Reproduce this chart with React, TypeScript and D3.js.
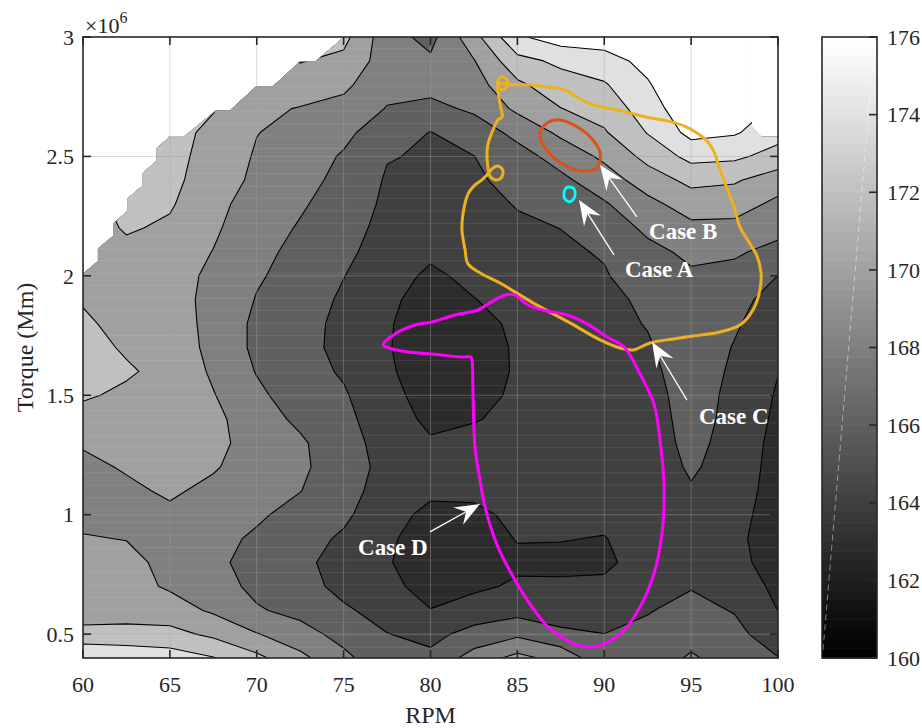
import React from "react";
import * as d3 from "d3";

// ---------- data ----------
const RPM_GRID = [60, 62.5, 65, 67.5, 70, 72.5, 75, 77.5, 80, 82.5, 85, 87.5, 90, 92.5, 95, 97.5, 100];
const TORQUE_GRID = [0.4, 0.5, 0.6, 0.7, 0.8, 0.9, 1.0, 1.1, 1.2, 1.3, 1.4, 1.5, 1.6, 1.7, 1.8, 1.9, 2.0, 2.1, 2.2, 2.3, 2.4, 2.5, 2.6, 2.7, 2.8, 2.9, 3.0];
// one row per torque value (bottom -> top), one column per RPM value
const VALUE_ROWS = [
  [175.4, 175.2, 175.0, 174.1, 172.5, 170.5, 168.5, 166.6, 166.4, 168.9, 170.6, 169.3, 166.6, 166.7, 168.3, 166.9, 166.05],
  [173.0, 172.9, 172.6, 171.6, 170.1, 168.8, 167.3, 166.05, 165.5, 166.6, 167.6, 166.5, 166.02, 166.4, 167.1, 166.5, 165.0],
  [170.4, 170.8, 170.9, 169.7, 168.2, 167.4, 166.3, 165.2, 164.05, 165.0, 165.3, 164.8, 165.0, 165.9, 166.5, 165.9, 163.98],
  [170.3, 170.7, 169.75, 168.9, 167.5, 166.8, 165.4, 164.5, 163.3, 163.6, 164.3, 164.2, 164.4, 165.3, 165.9, 165.0, 163.6],
  [170.2, 170.5, 169.5, 168.5, 167.2, 166.6, 165.0, 164.15, 163.0, 163.0, 163.6, 163.7, 163.6, 164.9, 165.5, 164.4, 163.4],
  [170.1, 169.95, 169.3, 168.6, 167.7, 166.8, 165.7, 164.3, 163.1, 163.0, 164.1, 164.05, 163.95, 164.6, 165.3, 164.3, 163.3],
  [169.6, 169.3, 169.6, 168.8, 168.3, 167.3, 166.4, 164.6, 163.6, 163.6, 164.4, 164.4, 164.3, 164.5, 165.4, 164.5, 163.3],
  [169.3, 169.6, 170.3, 169.5, 168.7, 168.05, 166.7, 165.2, 164.3, 164.4, 164.6, 164.6, 164.6, 164.5, 165.8, 164.8, 163.3],
  [169.5, 170.2, 170.8, 170.2, 169.0, 168.4, 166.8, 165.5, 164.5, 164.7, 164.7, 164.7, 164.8, 164.7, 166.3, 165.0, 163.35],
  [170.2, 170.8, 171.1, 170.6, 169.1, 168.3, 166.7, 165.3, 164.2, 164.5, 164.6, 164.8, 164.9, 164.9, 166.6, 165.2, 163.4],
  [171.4, 171.2, 171.2, 170.5, 168.9, 167.6, 166.5, 164.9, 163.6, 163.9, 164.4, 164.8, 165.0, 165.0, 166.8, 165.4, 163.6],
  [172.2, 171.7, 171.4, 170.1, 168.4, 167.0, 166.2, 164.6, 163.2, 163.4, 164.3, 164.8, 165.1, 165.2, 166.9, 165.5, 163.8],
  [172.6, 172.2, 171.5, 169.7, 167.9, 166.7, 165.8, 164.3, 162.9, 163.1, 164.2, 164.8, 165.2, 165.5, 167.0, 165.7, 164.05],
  [172.6, 171.8, 171.3, 169.4, 167.6, 166.6, 165.5, 164.15, 162.8, 163.0, 164.25, 164.9, 165.3, 165.8, 167.1, 165.9, 164.5],
  [172.4, 171.2, 171.0, 169.4, 167.6, 166.7, 165.5, 164.2, 162.9, 163.3, 164.4, 165.0, 165.4, 166.1, 167.2, 166.2, 165.0],
  [171.8, 170.8, 170.7, 169.5, 167.9, 167.0, 165.7, 164.4, 163.2, 163.95, 164.6, 165.2, 165.6, 166.3, 167.4, 166.4, 165.5],
  [171.2, 171.0, 170.6, 169.7, 168.2, 167.3, 166.05, 164.7, 163.7, 164.4, 164.9, 165.4, 165.85, 167.0, 167.8, 167.3, 165.98],
  [171.0, 171.5, 171.0, 169.95, 168.4, 167.6, 166.5, 165.0, 164.3, 164.8, 165.3, 165.7, 166.15, 167.6, 168.3, 168.3, 167.3],
  [171.0, 172.2, 171.7, 170.3, 168.8, 167.85, 166.9, 165.3, 164.8, 165.1, 165.7, 166.02, 167.1, 168.3, 169.5, 169.4, 168.7],
  [171.2, 172.6, 172.2, 170.6, 169.1, 168.2, 167.2, 165.6, 165.2, 165.4, 166.1, 166.8, 167.8, 169.4, 170.95, 170.9, 169.5],
  [171.5, 172.6, 172.5, 171.0, 169.6, 168.6, 167.5, 165.8, 165.5, 165.7, 166.6, 167.6, 169.0, 171.0, 172.5, 172.2, 171.0],
  [171.5, 172.6, 172.6, 171.3, 169.8, 169.0, 167.8, 166.1, 165.8, 165.97, 167.3, 168.7, 170.4, 172.6, 174.6, 174.4, 173.2],
  [171.5, 172.6, 172.6, 171.6, 170.05, 169.4, 168.5, 166.8, 165.95, 167.0, 168.5, 170.4, 171.8, 174.1, 176.6, 176.2, 174.8],
  [171.5, 172.6, 172.6, 172.1, 170.4, 169.9, 169.4, 167.9, 167.5, 168.3, 170.4, 171.95, 172.8, 175.0, 177.5, 177.5, 175.5],
  [171.5, 172.6, 172.6, 172.3, 170.8, 171.0, 170.4, 168.6, 168.6, 169.2, 171.6, 173.2, 173.8, 175.8, 178.0, 178.0, 175.5],
  [171.5, 172.6, 172.6, 172.3, 171.0, 172.1, 171.5, 169.0, 168.3, 169.9, 173.4, 174.4, 175.2, 176.6, 178.0, 178.0, 175.5],
  [171.5, 172.6, 172.6, 172.3, 171.0, 172.5, 172.6, 168.8, 167.4, 171.3, 175.7, 177.0, 177.0, 177.2, 178.0, 178.0, 175.5],
];
const LEVELS = [162, 164, 166, 168, 170, 172, 174, 176];
// fill grey of each band (lower level), as seen in the picture
const BAND_GRAY = [44, 64, 96, 128, 160, 192, 224, 255];

// boundary of the region that holds data (outside is blank)
const VALID_RPM = [60, 100, 100, 99.08, 98.5, 98.5, 75.02, 73.35, 72.47, 70.93, 69.97, 68.44, 67.63, 65.85, 65.02, 64.22, 64.22, 63.41, 63.41, 62.55, 62.55, 61.73, 61.73, 60.86, 60.86, 60];
const VALID_TQ = [0.4, 0.4, 2.582, 2.582, 2.624, 3.0, 3.0, 2.896, 2.896, 2.794, 2.794, 2.691, 2.691, 2.586, 2.586, 2.533, 2.481, 2.428, 2.377, 2.323, 2.272, 2.219, 2.167, 2.114, 2.062, 2.009];

// axis ticks
const X_TICKS = [60, 65, 70, 75, 80, 85, 90, 95, 100];
const Y_TICKS = [0.5, 1, 1.5, 2, 2.5, 3];
const CBAR_TICKS = [160, 162, 164, 166, 168, 170, 172, 174, 176];

// Case C (orange)
const CASE_C_RPM = [86.71, 87.68, 88.6, 89.18, 90.16, 91.31, 92.46, 93.61, 94.59, 95.34, 95.91, 96.32, 96.66, 97.06, 97.47, 97.81, 98.39, 98.79, 99.02, 98.96, 98.56, 97.81, 96.66, 95.11, 93.61, 92.63, 91.65, 90.91, 89.76, 88.03, 85.9, 84.0, 82.96, 82.16, 81.99, 81.81, 81.87, 82.16, 82.56, 82.96, 83.31, 83.54, 83.83, 84.12, 84.17, 84.0, 83.71, 83.42, 83.31, 83.25, 83.31, 83.6, 83.88, 84.12, 84.0, 83.88, 83.88, 84.06, 84.29, 84.46, 84.4, 84.12, 83.88, 84.0, 84.69, 85.61];
const CASE_C_TQ = [2.791, 2.779, 2.741, 2.72, 2.703, 2.685, 2.664, 2.649, 2.628, 2.598, 2.565, 2.519, 2.443, 2.368, 2.289, 2.205, 2.134, 2.083, 2.016, 1.941, 1.857, 1.794, 1.765, 1.748, 1.732, 1.719, 1.69, 1.698, 1.732, 1.803, 1.887, 1.97, 2.008, 2.05, 2.109, 2.192, 2.259, 2.343, 2.381, 2.402, 2.427, 2.448, 2.46, 2.448, 2.427, 2.406, 2.402, 2.418, 2.452, 2.511, 2.552, 2.611, 2.653, 2.665, 2.72, 2.779, 2.82, 2.833, 2.829, 2.812, 2.791, 2.779, 2.791, 2.804, 2.8, 2.8];
// Case D (magenta)
const CASE_D_RPM = [77.27, 77.96, 79.11, 80.09, 81.41, 82.73, 83.31, 84.29, 84.86, 85.61, 86.71, 87.86, 89.01, 90.16, 91.14, 92.06, 92.86, 93.21, 93.44, 93.32, 92.86, 92.06, 91.14, 89.99, 89.18, 88.26, 87.28, 86.71, 85.84, 84.86, 83.88, 83.14, 82.85, 82.56, 82.45, 82.39, 82.33, 81.81, 80.09, 78.71, 77.78];
const CASE_D_TQ = [1.711, 1.757, 1.794, 1.807, 1.836, 1.857, 1.882, 1.92, 1.92, 1.878, 1.853, 1.836, 1.799, 1.744, 1.702, 1.589, 1.464, 1.313, 1.116, 0.919, 0.752, 0.614, 0.517, 0.459, 0.446, 0.459, 0.501, 0.534, 0.614, 0.727, 0.865, 1.032, 1.145, 1.284, 1.493, 1.648, 1.66, 1.66, 1.673, 1.681, 1.694];
// Case B (red ellipse)
const CASE_B_RPM = [86.3, 86.71, 87.45, 88.43, 89.35, 89.76, 89.64, 89.01, 88.03, 87.05, 86.42];
const CASE_B_TQ = [2.598, 2.64, 2.653, 2.624, 2.569, 2.515, 2.456, 2.439, 2.452, 2.498, 2.557];
// Case A (cyan ring)
const CASE_A_RPM = [88.03, 88.26, 88.32, 88.2, 87.97, 87.74, 87.68, 87.8];
const CASE_A_TQ = [2.372, 2.364, 2.339, 2.318, 2.31, 2.322, 2.347, 2.368];

// annotations
const LABELS = ["Case A", "Case B", "Case C", "Case D"];
const TIP_RPM = [88.55, 89.76, 92.75, 82.85];
const TIP_TQ = [2.318, 2.464, 1.723, 1.045];
const TAIL_RPM = [90.56, 91.88, 94.76, 79.97];
const TAIL_TQ = [2.088, 2.247, 1.48, 0.928];
const LABEL_RPM = [91.19, 92.58, 95.45, 75.83];
const LABEL_TQ = [1.995, 2.155, 1.38, 0.831];

// faint mesh rows of the rendered surface
const MESH_TOP = 2.794;
const MESH_STEP = 0.0522;

const FONT = "'Liberation Serif', 'Times New Roman', Times, serif";

function grayOf(level: number) {
  const i = LEVELS.indexOf(level);
  const g = BAND_GRAY[Math.max(0, i)];
  return `rgb(${g},${g},${g})`;
}

function arrowHead(tx: number, ty: number, fx: number, fy: number) {
  const len = 25, hw = 10, notch = 16;
  const dx = tx - fx, dy = ty - fy;
  const L = Math.hypot(dx, dy);
  const ux = dx / L, uy = dy / L;
  const px = -uy, py = ux;
  const bx = tx - ux * len, by = ty - uy * len;
  const nx = tx - ux * notch, ny = ty - uy * notch;
  return {
    d: `M${tx},${ty}L${bx + px * hw},${by + py * hw}L${nx},${ny}L${bx - px * hw},${by - py * hw}Z`,
    nx,
    ny,
  };
}

export default function App() {
  const W = 922, H = 728;
  const PL = 83, PR = 778, PT = 37, PB = 658;
  const CBL = 822, CBR = 877;

  const x = d3.scaleLinear().domain([60, 100]).range([PL, PR]);
  const y = d3.scaleLinear().domain([0.4, 3.0]).range([PB, PT]);
  const cy = d3.scaleLinear().domain([160, 176]).range([PB, PT]);

  const n = RPM_GRID.length, m = TORQUE_GRID.length;
  const gx = d3.scaleLinear().domain([0, n - 1]).range([RPM_GRID[0], RPM_GRID[n - 1]]);
  const gy = d3.scaleLinear().domain([0, m - 1]).range([TORQUE_GRID[0], TORQUE_GRID[m - 1]]);
  const flat = VALUE_ROWS.flat();
  const contours = d3.contours().size([n, m]).thresholds(LEVELS)(flat);
  const proj = d3.geoTransform({
    point(px: number, py: number) {
      (this as any).stream.point(x(gx(px - 0.5)), y(gy(py - 0.5)));
    },
  });
  const geo = d3.geoPath(proj as any);

  const clipD =
    "M" + VALID_RPM.map((r, i) => `${x(r)},${y(VALID_TQ[i])}`).join("L") + "Z";

  const closed = d3
    .line<[number, number]>()
    .x((d) => x(d[0]))
    .y((d) => y(d[1]))
    .curve(d3.curveCatmullRomClosed.alpha(0.5));
  const zip = (a: number[], b: number[]) => a.map((v, i) => [v, b[i]] as [number, number]);

  const meshRows: number[] = [];
  for (let k = -50; k < 10; k++) {
    const t = MESH_TOP + k * MESH_STEP;
    if (t > 0.41 && t < 2.99) meshRows.push(t);
  }

  const cbSteps = d3.range(64);

  return (
    <svg width={W} height={H} style={{ position: "absolute", left: 0, top: 0, background: "#fff" }} fontFamily={FONT}>
      <defs>
        <clipPath id="valid">
          <path d={clipD} />
        </clipPath>
        <clipPath id="plot">
          <rect x={PL} y={PT} width={PR - PL} height={PB - PT} />
        </clipPath>
      </defs>
      <rect x={0} y={0} width={W} height={H} fill="#fff" />

      {/* filled contours */}
      <g clipPath="url(#valid)">
        {contours.map((c, i) => (
          <path key={"f" + i} d={geo(c as any) || ""} fill={grayOf(c.value)} stroke="none" />
        ))}
        {meshRows.map((t, i) => (
          <line key={"m" + i} x1={PL} x2={PR} y1={y(t)} y2={y(t)} stroke="#fff" strokeOpacity={0.09} strokeWidth={1} />
        ))}
        {contours
          .filter((c) => c.value > LEVELS[0])
          .map((c, i) => (
            <path key={"l" + i} d={geo(c as any) || ""} fill="none" stroke="#000" strokeWidth={1.1} strokeLinejoin="round" />
          ))}
      </g>

      {/* grid */}
      <g>
        {X_TICKS.slice(1, -1).map((v) => (
          <line key={"gx" + v} x1={x(v)} x2={x(v)} y1={PT} y2={PB} stroke="#a3a3a3" strokeOpacity={0.42} strokeWidth={1} />
        ))}
        {Y_TICKS.slice(0, -1).map((v) => (
          <line key={"gy" + v} x1={PL} x2={PR} y1={y(v)} y2={y(v)} stroke="#a3a3a3" strokeOpacity={0.42} strokeWidth={1} />
        ))}
      </g>

      {/* case curves */}
      <g clipPath="url(#plot)" fill="none" strokeLinejoin="round">
        <path d={closed(zip(CASE_C_RPM, CASE_C_TQ)) || ""} stroke="#EDB120" strokeWidth={3} />
        <path d={closed(zip(CASE_D_RPM, CASE_D_TQ)) || ""} stroke="#FF00FF" strokeWidth={3} />
        <path d={closed(zip(CASE_B_RPM, CASE_B_TQ)) || ""} stroke="#D95319" strokeWidth={3} />
        <path d={closed(zip(CASE_A_RPM, CASE_A_TQ)) || ""} stroke="#00FFFF" strokeWidth={2.8} />
      </g>

      {/* annotations */}
      <g>
        {LABELS.map((lab, i) => {
          const tx = x(TIP_RPM[i]), ty = y(TIP_TQ[i]);
          const fx = x(TAIL_RPM[i]), fy = y(TAIL_TQ[i]);
          const h = arrowHead(tx, ty, fx, fy);
          return (
            <g key={lab}>
              <line x1={fx} y1={fy} x2={h.nx} y2={h.ny} stroke="#fff" strokeWidth={1.3} />
              <path d={h.d} fill="#fff" stroke="none" />
              <text x={x(LABEL_RPM[i])} y={y(LABEL_TQ[i])} fill="#fff" fontWeight="bold" fontSize={23}>
                {lab}
              </text>
            </g>
          );
        })}
      </g>

      {/* axes box and ticks */}
      <g stroke="#262626" strokeWidth={1.6} fill="none">
        <rect x={PL} y={PT} width={PR - PL} height={PB - PT} />
        {X_TICKS.map((v) => (
          <g key={"tx" + v}>
            <line x1={x(v)} x2={x(v)} y1={PB} y2={PB - 8} />
            <line x1={x(v)} x2={x(v)} y1={PT} y2={PT + 8} />
          </g>
        ))}
        {Y_TICKS.map((v) => (
          <g key={"ty" + v}>
            <line x1={PL} x2={PL + 8} y1={y(v)} y2={y(v)} />
            <line x1={PR} x2={PR - 8} y1={y(v)} y2={y(v)} />
          </g>
        ))}
      </g>
      <g fill="#262626" fontSize={22}>
        {X_TICKS.map((v) => (
          <text key={"lx" + v} x={x(v)} y={692} textAnchor="middle">
            {String(v)}
          </text>
        ))}
        {Y_TICKS.map((v) => (
          <text key={"ly" + v} x={PL - 9} y={y(v)} dy="0.35em" textAnchor="end">
            {String(v)}
          </text>
        ))}
      </g>
      <text x={85} y={33} fontSize={22} fill="#262626">
        ×10
        <tspan dy={-10} fontSize={16}>
          6
        </tspan>
      </text>
      <text x={(PL + PR) / 2} y={723} fontSize={24} fill="#262626" textAnchor="middle">
        RPM
      </text>
      <text transform={`translate(33,${(PT + PB) / 2}) rotate(-90)`} fontSize={24} fill="#262626" textAnchor="middle">
        Torque (Mm)
      </text>

      {/* colorbar */}
      <g>
        {cbSteps.map((k) => {
          const v0 = 160 + (k * 16) / 64, v1 = 160 + ((k + 1) * 16) / 64;
          const g = Math.round((k / 63) * 255);
          return (
            <rect key={"cb" + k} x={CBL} y={cy(v1)} width={CBR - CBL} height={cy(v0) - cy(v1) + 0.6} fill={`rgb(${g},${g},${g})`} />
          );
        })}
        <line x1={CBL + 1} y1={cy(160.2)} x2={CBR - 4} y2={cy(175.4)} stroke="#fff" strokeOpacity={0.45} strokeWidth={1} strokeDasharray="6 4" />
        <rect x={CBL} y={PT} width={CBR - CBL} height={PB - PT} fill="none" stroke="#262626" strokeWidth={1.6} />
        {CBAR_TICKS.map((v) => (
          <line key={"ct" + v} x1={CBR} x2={CBR - 8} y1={cy(v)} y2={cy(v)} stroke="#262626" strokeWidth={1.6} />
        ))}
        {CBAR_TICKS.map((v) => (
          <text key={"cl" + v} x={887} y={cy(v)} dy="0.35em" fontSize={22} fill="#262626">
            {String(v)}
          </text>
        ))}
      </g>
    </svg>
  );
}
